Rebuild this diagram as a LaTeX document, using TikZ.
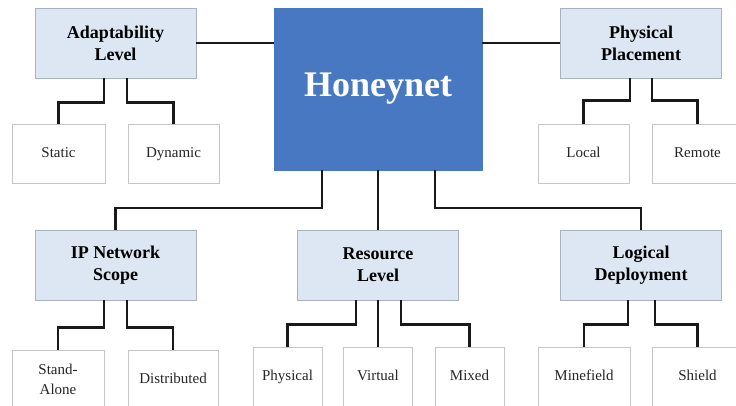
\documentclass[tikz,border=0pt]{standalone}
\usepackage{fontspec}
\setmainfont{Liberation Serif}
\usetikzlibrary{calc}

\definecolor{hnblue}{RGB}{72,120,193}
\definecolor{catfill}{RGB}{221,231,243}
\definecolor{catline}{RGB}{170,178,188}
\definecolor{leafline}{RGB}{196,198,200}
\definecolor{linkcol}{RGB}{25,25,25}
\definecolor{leaftext}{RGB}{38,38,38}

\tikzset{
  rootbox/.style={fill=hnblue, draw=hnblue, minimum width=208pt, minimum height=162pt,
    text=white, font=\fontsize{36}{40}\selectfont\bfseries, inner sep=0pt},
  catbox/.style={fill=catfill, draw=catline, line width=0.9pt, minimum width=161pt,
    minimum height=70pt, align=center, text=black, inner sep=0pt,
    font=\fontsize{18}{22}\selectfont\bfseries},
  leafbox/.style={fill=white, draw=leafline, line width=0.9pt, minimum height=59pt,
    align=center, text=leaftext, inner sep=0pt, font=\fontsize{15}{20}\selectfont},
  leafone/.style={leafbox, text height=10.5pt, text depth=3.5pt},
  link/.style={draw=linkcol, line width=2.1pt}
}

\begin{document}
\begin{tikzpicture}[x=1pt, y=-1pt]
  \useasboundingbox (0,0) rectangle (736,405);
  \clip (0,0) rectangle (736,405);
  \fill[white] (0,0) rectangle (736,405);

  % root
  \node[rootbox] (hn) at (378,89) {Honeynet};

  % categories
  \node[catbox] (adapt) at (115.5,43) {Adaptability\\Level};
  \node[catbox] (place) at (641,43) {Physical\\Placement};
  \node[catbox] (ip) at (115.5,265) {IP Network\\Scope};
  \node[catbox] (res) at (378,265) {Resource\\Level};
  \node[catbox] (logic) at (641,265) {Logical\\Deployment};

  % leaves
  \node[leafone, minimum width=93pt] (static) at (58.5,153.5) {Static};
  \node[leafone, minimum width=91pt] (dynamic) at (173.5,153.5) {Dynamic};
  \node[leafone, minimum width=91pt] (local) at (583.5,153.5) {Local};
  \node[leafone, minimum width=91pt] (remote) at (697.5,153.5) {Remote};

  \node[leafbox, minimum width=92pt] (stand) at (58,379.5) {Stand-\\Alone};
  \node[leafone, minimum width=90pt] (distr) at (173,379.5) {Distributed};
  \node[leafone, minimum width=69pt] (physical) at (287.5,376.5) {Physical};
  \node[leafone, minimum width=69pt] (virtual) at (378,376.5) {Virtual};
  \node[leafone, minimum width=69pt] (mixed) at (469.5,376.5) {Mixed};
  \node[leafone, minimum width=92pt] (mine) at (584,376.5) {Minefield};
  \node[leafone, minimum width=91pt] (shield) at (697.5,376.5) {Shield};

  % root to categories
  \draw[link] (adapt.east) -- (adapt.east -| hn.west);
  \draw[link] (place.west) -- (place.west -| hn.east);
  \draw[link] ([xshift=-56pt]hn.south) -- ++(0,38) -| (ip.north);
  \draw[link] (hn.south) -- (res.north);
  \draw[link] ([xshift=57pt]hn.south) -- ++(0,38) -| (logic.north);

  % categories to leaves
  \draw[link] ([xshift=-11.5pt]adapt.south) -- ++(0,24) -| (static.north);
  \draw[link] ([xshift=11.5pt]adapt.south) -- ++(0,24) -| (dynamic.north);
  \draw[link] ([xshift=-11pt]place.south) -- ++(0,22) -| (local.north);
  \draw[link] ([xshift=11pt]place.south) -- ++(0,22) -| (remote.north);
  \draw[link] ([xshift=-11.5pt]ip.south) -- ++(0,27) -| (stand.north);
  \draw[link] ([xshift=11.5pt]ip.south) -- ++(0,27) -| (distr.north);
  \draw[link] ([xshift=-22pt]res.south) -- ++(0,24) -| (physical.north);
  \draw[link] (res.south) -- (virtual.north);
  \draw[link] ([xshift=23pt]res.south) -- ++(0,24) -| (mixed.north);
  \draw[link] ([xshift=-13pt]logic.south) -- ++(0,24) -| (mine.north);
  \draw[link] ([xshift=14pt]logic.south) -- ++(0,24) -| (shield.north);
\end{tikzpicture}
\end{document}
